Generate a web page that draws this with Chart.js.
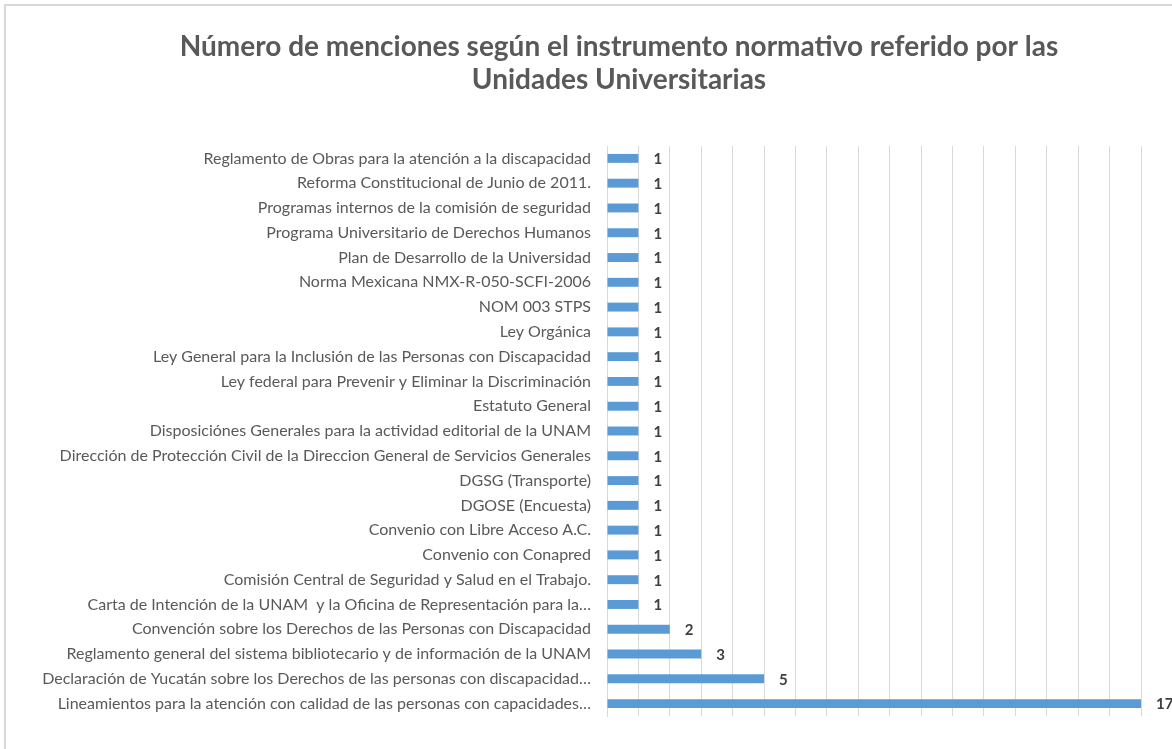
<!DOCTYPE html>
<html>
<head>
<meta charset="utf-8">
<script src="https://cdn.jsdelivr.net/npm/chart.js@4.4.0/dist/chart.umd.min.js"></script>
<style>
    body { margin: 0; background: #fff; }
    #wrap { position: relative; width: 1172px; height: 749px; overflow: hidden; }
    #grafico { position: absolute; left: 0; top: 0; }
    #marco { position: absolute; left: 4px; top: 4px; right: 0; bottom: 0;
             border-left: 2px solid #d9d9d9; border-top: 2px solid #d9d9d9; pointer-events: none; }
</style>
</head>
<body>
<div id="wrap">
    <canvas id="grafico" width="1172" height="749"></canvas>
    <div id="marco"></div>
</div>
<script>
// dati
var titolo = ['Número de menciones según el instrumento normativo referido por las', 'Unidades Universitarias'];

var instrumenti = [
    'Reglamento de Obras para la atención a la discapacidad',
    'Reforma Constitucional de Junio de 2011.',
    'Programas internos de la comisión de seguridad',
    'Programa Universitario de Derechos Humanos',
    'Plan de Desarrollo de la Universidad',
    'Norma Mexicana NMX-R-050-SCFI-2006',
    'NOM 003 STPS',
    'Ley Orgánica',
    'Ley General para la Inclusión de las Personas con Discapacidad',
    'Ley federal para Prevenir y Eliminar la Discriminación',
    'Estatuto General',
    'Disposiciónes Generales para la actividad editorial de la UNAM',
    'Dirección de Protección Civil de la Direccion General de Servicios Generales',
    'DGSG (Transporte)',
    'DGOSE (Encuesta)',
    'Convenio con Libre Acceso A.C.',
    'Convenio con Conapred',
    'Comisión Central de Seguridad y Salud en el Trabajo.',
    'Carta de Intención de la UNAM  y la Oficina de Representación para la…',
    'Convención sobre los Derechos de las Personas con Discapacidad',
    'Reglamento general del sistema bibliotecario y de información de la UNAM',
    'Declaración de Yucatán sobre los Derechos de las personas con discapacidad…',
    'Lineamientos para la atención con calidad de las personas con capacidades…'
];

var menzioni = [1, 1, 1, 1, 1, 1, 1, 1, 1, 1, 1, 1, 1, 1, 1, 1, 1, 1, 1, 2, 3, 5, 17];

var assexMin = 0;
var assexMax = 17;

var font = 'Lato, "Open Sans", sans-serif';

// titolo centrato come nell'originale (non sull'area del canvas)
var titoloGrafico = {
    id: 'titoloGrafico',
    afterDraw: function (chart) {
        var ctx = chart.ctx;
        ctx.save();
        ctx.font = 'bold 28px ' + font;
        ctx.fillStyle = '#595959';
        ctx.textAlign = 'center';
        ctx.textBaseline = 'middle';
        for (var i = 0; i < titolo.length; i++) {
            ctx.fillText(titolo[i], 619, 47 + i * 33);
        }
        ctx.restore();
    }
};

// etichette dei valori a destra delle barre
var etichetteValori = {
    id: 'etichetteValori',
    afterDatasetsDraw: function (chart) {
        var ctx = chart.ctx;
        var meta = chart.getDatasetMeta(0);
        ctx.save();
        ctx.font = 'bold 15px ' + font;
        ctx.fillStyle = '#404040';
        ctx.textAlign = 'left';
        ctx.textBaseline = 'middle';
        for (var i = 0; i < meta.data.length; i++) {
            var bar = meta.data[i];
            ctx.fillText(String(menzioni[i]), bar.x + 15, bar.y + 1);
        }
        ctx.restore();
    }
};

var ctx = document.getElementById('grafico');
var chart = new Chart(ctx, {
    type: 'bar',
    data: {
        labels: instrumenti,
        datasets: [{
            data: menzioni,
            backgroundColor: '#5b9bd5',
            borderWidth: 0,
            barPercentage: 0.5,
            categoryPercentage: 0.72
        }]
    },
    options: {
        indexAxis: 'y',
        responsive: false,
        animation: false,
        layout: { padding: { top: 146, right: 31, bottom: 33, left: 0 } },
        plugins: {
            legend: { display: false },
            tooltip: { enabled: false },
            title: { display: false }
        },
        scales: {
            x: {
                min: assexMin,
                max: assexMax,
                ticks: { display: false, stepSize: 1 },
                grid: { color: '#d9d9d9', lineWidth: 1, drawTicks: false },
                border: { display: false },
                afterFit: function (scale) { scale.height = 0; }
            },
            y: {
                ticks: {
                    color: '#595959',
                    font: { family: font, size: 16 },
                    padding: 16,
                    autoSkip: false
                },
                grid: { display: false, drawTicks: false },
                border: { display: true, color: '#d9d9d9' },
                afterFit: function (scale) { scale.width = 607; }
            }
        }
    },
    plugins: [titoloGrafico, etichetteValori]
});
</script>
</body>
</html>
